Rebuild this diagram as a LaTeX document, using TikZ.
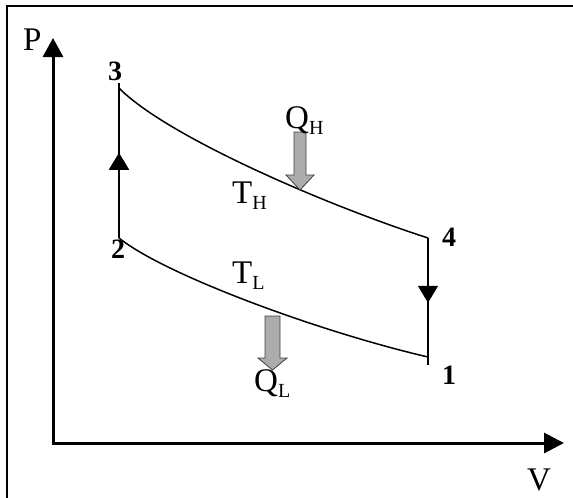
\documentclass[tikz,border=0pt]{standalone}
\usepackage{fontspec}
\setmainfont{Liberation Serif}
\usetikzlibrary{arrows.meta,decorations.markings}
\newcommand\mysub[1]{\raisebox{-6pt}{\fontsize{20}{20}\selectfont #1}}
\begin{document}
\begin{tikzpicture}[x=1pt,y=-1pt,
  lbl/.style={inner sep=0pt,anchor=base west,font=\fontsize{33}{33}\selectfont},
  num/.style={inner sep=0pt,anchor=base west,font=\fontsize{28}{28}\selectfont\bfseries},
  axis/.style={line width=3pt,{Triangle[width=20pt,length=19pt]}-{Triangle[width=20pt,length=20pt]}},
  proc/.style={line width=1.8pt},
  curve/.style={line width=1.5pt},
  midarrow/.style={postaction={decorate},decoration={markings,
     mark=at position #1 with {\arrow{Triangle[width=20pt,length=17pt]}}}},
  heat/.style={fill=gray!65,draw=gray!50!black,line width=0.8pt}]
\useasboundingbox (0,0) rectangle (573,498);
\begin{scope}
\clip (0,0) rectangle (573,498);
\draw[line width=2.5pt] (7,6) rectangle (590,515);
\end{scope}
% axes
\coordinate (O) at (53,443);
\coordinate (Ptop) at (53,38);
\coordinate (Vend) at (564,443);
\draw[axis] (Ptop) -- (O) -- (Vend);
\node[lbl] (P) at (23,50) {P};
\node[lbl] (V) at (527,490) {V};
% state points
\coordinate (p3t) at (119,83);
\coordinate (p3) at (119,88);
\coordinate (p2) at (119,238);
\coordinate (p4) at (428,238);
\coordinate (p1) at (428,357);
\coordinate (p1b) at (428,365);
\node[num] (n3) at (108,80) {3};
\node[num] (n2) at (111,258) {2};
\node[num] (n4) at (442,246) {4};
\node[num] (n1) at (442,384) {1};
% processes
\draw[proc,midarrow=0.55] (p2) -- (p3t);
\draw[curve] (p3) .. controls (165,135) and (320,203) .. (p4);
\draw[proc,midarrow=0.51] (p4) -- (p1b);
\draw[curve] (p2) .. controls (165,275) and (320,332) .. (p1);
% heat arrows
\draw[heat] (294,132) -- (306,132) -- (306,175) -- (314,175) -- (300,190) -- (286,175) -- (294,175) -- cycle;
\draw[heat] (265,316) -- (280,316) -- (280,358) -- (287,358) -- (272.5,370) -- (258,358) -- (265,358) -- cycle;
% labels
\node[lbl] (QH) at (285,128) {Q\mysub{H}};
\node[lbl] (TH) at (232,203) {T\mysub{H}};
\node[lbl] (TL) at (232,283) {T\mysub{L}};
\node[lbl] (QL) at (254,391) {Q\mysub{L}};
\end{tikzpicture}
\end{document}
